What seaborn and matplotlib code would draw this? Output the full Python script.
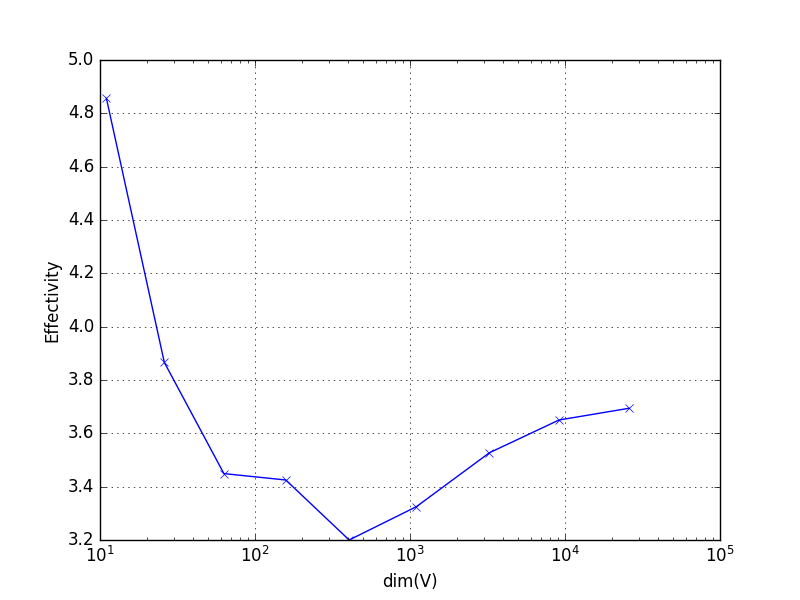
import matplotlib
matplotlib.use("Agg")
import matplotlib.pyplot as plt
import seaborn as sns
import pandas as pd

# values
dims = [11, 26, 63, 158, 405, 1100, 3250, 9150, 25900]
effectivity = [4.856, 3.866, 3.449, 3.425, 3.2, 3.325, 3.527, 3.65, 3.694]

df = pd.DataFrame({"dim(V)": dims, "Effectivity": effectivity})

plt.style.use("classic")
fig, ax = plt.subplots(figsize=(8, 6), dpi=100)

sns.lineplot(data=df, x="dim(V)", y="Effectivity", ax=ax, color="b",
             marker="x", markersize=6, markeredgecolor="b", markeredgewidth=0.5,
             linewidth=1.0, sort=False)

ax.set_xscale("log")
ax.set_xlim(10, 1e5)
ax.set_ylim(3.2, 5.0)
ax.set_xlabel("dim(V)")
ax.set_ylabel("Effectivity")
ax.grid(True)

fig.savefig("out.png", dpi=100)
